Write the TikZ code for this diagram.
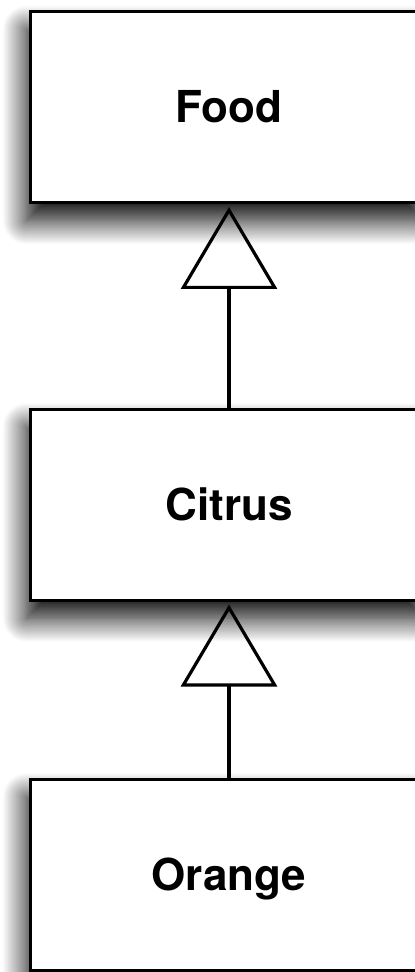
\documentclass[tikz,border=0pt]{standalone}
\usepackage{fontspec}
\setmainfont{TeX Gyre Heros}
\usetikzlibrary{arrows.meta,positioning,shadows.blur}

\tikzset{
  classbox/.style={draw, line width=1.5pt, fill=white,
    minimum width=198.5pt, minimum height=95.5pt,
    text height=15.8pt, text depth=0pt,
    font=\bfseries\fontsize{22}{26}\selectfont,
    blur shadow={shadow xshift=-2pt, shadow yshift=-9pt,
      shadow blur radius=12pt, shadow blur steps=24, shadow opacity=100}},
  inherits/.style={line width=1.6pt, shorten >=1.5pt,
    -{Triangle[open, length=41pt, width=48pt]}}
}

\begin{document}
\begin{tikzpicture}
    \useasboundingbox (0,0) rectangle (207.5pt,-486pt);
    \clip (0,0) rectangle (207.5pt,-486pt);
        \node[classbox] (food) at (114.5pt,-53.5pt) {Food};
        \node[classbox, below=101.75pt of food] (citrus) {Citrus};
        \node[classbox, below=88pt of citrus] (orange) {Orange};
        \draw[inherits] (citrus.north) -- (food.south);
        \draw[inherits] (orange.north) -- (citrus.south);
    \end{tikzpicture}
\end{document}
